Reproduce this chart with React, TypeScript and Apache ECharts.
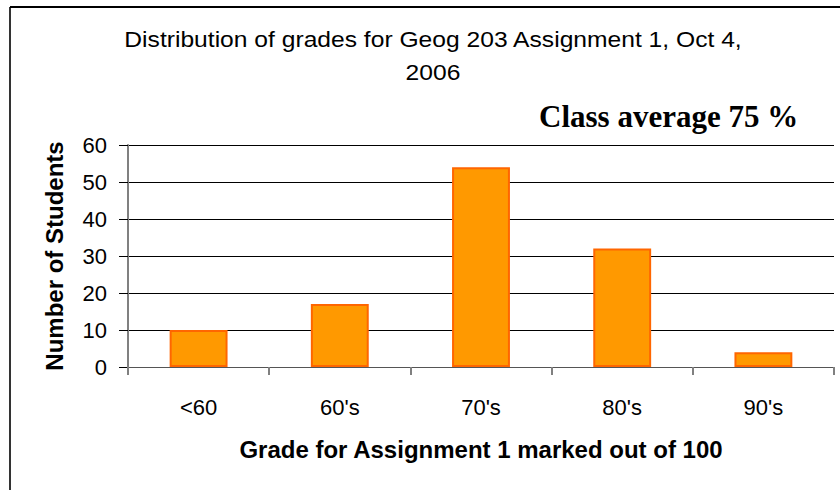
import React, { useEffect, useRef } from "react";
import * as echarts from "echarts";

const categories = ["<60", "60's", "70's", "80's", "90's"];
const students = [10, 17, 54, 32, 4];
const yMin = 0;
const yMax = 60;
const yInterval = 10;
const titleText = "Distribution of grades for Geog 203 Assignment 1, Oct 4,\n2006";
const noteText = "Class average 75 %";
const xName = "Grade for Assignment 1 marked out of 100";
const yName = "Number of Students";

const SANS = "Arial, 'Liberation Sans', sans-serif";
const SERIF = "'Times New Roman', 'Liberation Serif', serif";

export default function App() {
  const ref = useRef<HTMLDivElement>(null);
  useEffect(() => {
    if (!ref.current) return;
    const chart = echarts.init(ref.current, null, { renderer: "svg" });
    chart.setOption({
      animation: false,
      backgroundColor: "#ffffff",
      grid: { left: 128, right: 6, top: 145, bottom: 123, containLabel: false },
      graphic: [
        {
          type: "line",
          shape: { x1: 10, y1: 7, x2: 10, y2: 490 },
          style: { stroke: "#333333", lineWidth: 2 },
        },
        {
          type: "line",
          shape: { x1: 10, y1: 7, x2: 840, y2: 7 },
          style: { stroke: "#000000", lineWidth: 2 },
        },
        {
          type: "text",
          x: 433,
          y: 23,
          scaleX: 1.12,
          style: {
            text: titleText,
            font: `22px ${SANS}`,
            fill: "#000000",
            align: "center",
            verticalAlign: "top",
            lineHeight: 33,
          },
        },
        {
          type: "text",
          x: 539,
          y: 116,
          style: {
            text: noteText,
            font: `bold 31px ${SERIF}`,
            fill: "#000000",
            align: "left",
            verticalAlign: "middle",
          },
        },
      ],
      xAxis: {
        type: "category",
        data: categories,
        name: xName,
        nameLocation: "middle",
        nameGap: 70,
        nameTextStyle: { fontFamily: SANS, fontSize: 24, fontWeight: "bold", color: "#000" },
        axisLine: { show: true, lineStyle: { color: "#555555", width: 1 } },
        axisTick: { show: true, alignWithLabel: false, length: 8, lineStyle: { color: "#808080", width: 2 } },
        axisLabel: { fontFamily: SANS, fontSize: 22, color: "#000", margin: 29 },
        splitLine: { show: false },
      },
      yAxis: {
        type: "value",
        min: yMin,
        max: yMax,
        interval: yInterval,
        name: yName,
        nameLocation: "middle",
        nameRotate: 90,
        nameGap: 62,
        nameTextStyle: { fontFamily: SANS, fontSize: 24, fontWeight: "bold", color: "#000" },
        axisLine: { show: true, lineStyle: { color: "#808080", width: 2 } },
        axisTick: { show: true, length: 9, lineStyle: { color: "#000", width: 1 } },
        axisLabel: { fontFamily: SANS, fontSize: 22, color: "#000", margin: 21 },
        splitLine: { show: true, lineStyle: { color: "#000", width: 1 } },
      },
      series: [
        {
          type: "bar",
          data: students,
          barWidth: "41%",
          itemStyle: { color: "#FF9900", borderColor: "#FF6600", borderWidth: 2 },
        },
      ],
    });
    return () => chart.dispose();
  }, []);
  return (
    <div
      ref={ref}
      style={{ position: "fixed", left: 0, top: 0, width: 840, height: 490 }}
    />
  );
}
